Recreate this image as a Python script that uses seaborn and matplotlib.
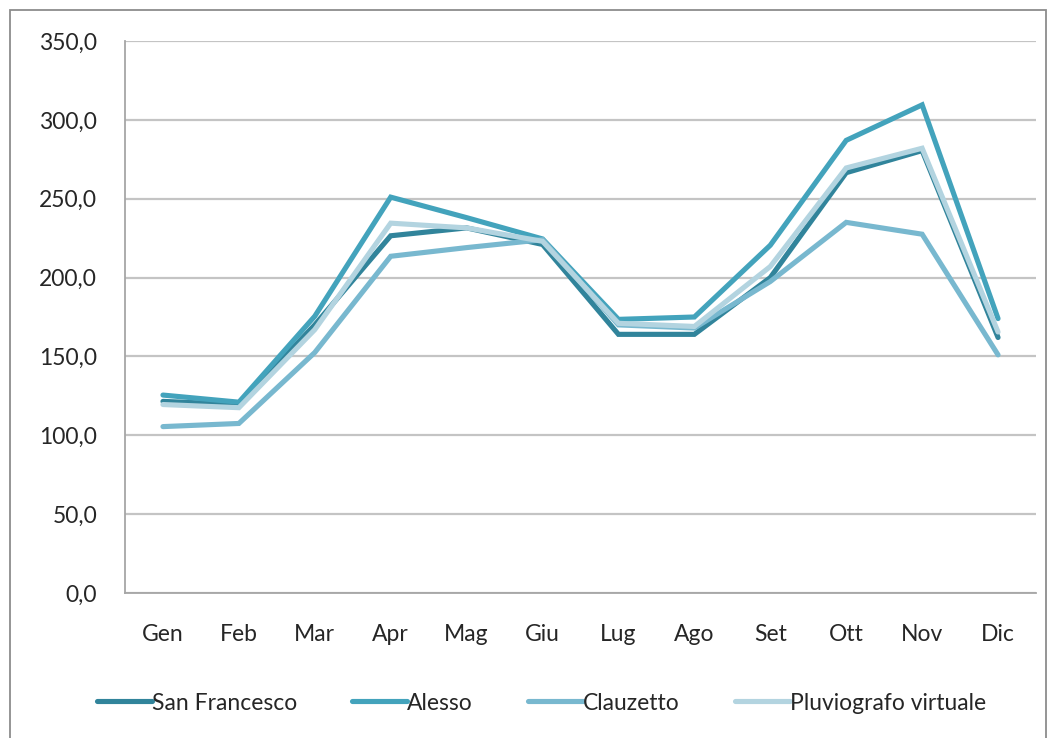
import matplotlib
matplotlib.use("Agg")
import matplotlib.pyplot as plt
import matplotlib.patches as mpatches
import seaborn as sns
import pandas as pd

months = ["Gen", "Feb", "Mar", "Apr", "Mag", "Giu", "Lug", "Ago", "Set", "Ott", "Nov", "Dic"]
san_francesco = [121.5, 119.5, 170.0, 226.5, 231.5, 221.0, 164.0, 164.0, 200.0, 266.5, 280.5, 162.0]
alesso = [125.5, 121.0, 175.5, 251.0, 238.0, 224.5, 173.5, 175.0, 220.5, 287.0, 309.5, 174.0]
clauzetto = [105.5, 107.5, 152.5, 213.5, 219.0, 224.0, 170.0, 168.0, 197.5, 235.0, 227.5, 151.0]
pluviografo = [119.5, 117.5, 167.0, 234.5, 231.5, 223.0, 171.0, 169.0, 207.0, 269.5, 282.0, 165.5]
series_names = ["San Francesco", "Alesso", "Clauzetto", "Pluviografo virtuale"]
colors = ["#31849B", "#43A3BC", "#78B8CF", "#B3D4E0"]
yticks = [0, 50, 100, 150, 200, 250, 300, 350]

rows = []
for name, vals in zip(series_names, [san_francesco, alesso, clauzetto, pluviografo]):
    for i, (m, v) in enumerate(zip(months, vals)):
        rows.append({"idx": i, "Mese": m, "Valore": v, "Serie": name})
df = pd.DataFrame(rows)

sns.set_theme(style="white")
plt.rcParams["font.family"] = ["Lato", "DejaVu Sans"]

fig = plt.figure(figsize=(10.51, 7.38), dpi=100)
ax = fig.add_axes([125 / 1051, 1 - 593 / 738, (1036 - 125) / 1051, (593 - 41) / 738])

sns.lineplot(data=df, x="idx", y="Valore", hue="Serie", hue_order=series_names,
             palette=colors, linewidth=3.7, ax=ax, legend=True,
             solid_capstyle="round", solid_joinstyle="miter")

ax.set_xlim(-0.5, 11.5)
ax.set_ylim(0, 350)
ax.set_yticks(yticks)
ax.set_yticklabels([f"{v:.1f}".replace(".", ",") for v in yticks], fontsize=16.5)
ax.set_xticks(range(len(months)))
ax.set_xticklabels(months, fontsize=16.5)
ax.set_xlabel("")
ax.set_ylabel("")
ax.tick_params(axis="both", length=0)
ax.tick_params(axis="x", pad=22)
ax.tick_params(axis="y", pad=20)
ax.yaxis.grid(True, color="#C4C4C4", linewidth=1.6)
ax.set_axisbelow(True)
for s in ["top", "right"]:
    ax.spines[s].set_visible(False)
for s in ["left", "bottom"]:
    ax.spines[s].set_color("#A6A6A6")
    ax.spines[s].set_linewidth(1.3)

leg = ax.get_legend()
handles = leg.legend_handles
leg.remove()
fig.legend(handles, series_names, loc="center", bbox_to_anchor=(0.515, 1 - 703 / 738),
           ncol=4, frameon=False, fontsize=16.5, handlelength=2.4, handletextpad=0.0,
           columnspacing=2.4)
for h in handles:
    h.set_linewidth(4.5)

fig.patches.append(mpatches.Rectangle((10 / 1051, -0.05), (1046 - 10) / 1051, 1 - 10 / 738 + 0.05,
                                      transform=fig.transFigure, fill=False,
                                      edgecolor="#8C8C8C", linewidth=1.3))

fig.savefig("out.png", dpi=100)
